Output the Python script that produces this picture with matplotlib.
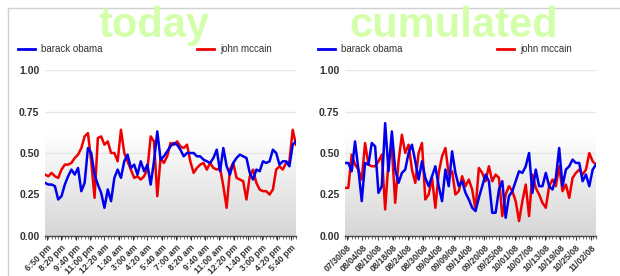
import numpy as np
import matplotlib
matplotlib.use('Agg')
import matplotlib.pyplot as plt
from matplotlib.lines import Line2D

plt.rcParams['font.family'] = ['Liberation Sans', 'DejaVu Sans']

# ---- data ----
today_labels = ['6:50 pm', '8:20 pm', '9:40 pm', '11:00 pm', '12:20 am', '1:40 am',
                '3:00 am', '4:20 am', '5:40 am', '7:00 am', '8:20 am', '9:40 am',
                '11:00 am', '12:20 pm', '1:40 pm', '3:00 pm', '4:20 pm', '5:40 pm']
today_obama = [0.32, 0.31, 0.31, 0.30, 0.22, 0.24, 0.31, 0.36, 0.40, 0.37, 0.41, 0.27, 0.32,
               0.53, 0.50, 0.37, 0.31, 0.26, 0.17, 0.28, 0.21, 0.35, 0.40, 0.35, 0.45, 0.49,
               0.41, 0.43, 0.37, 0.45, 0.39, 0.43, 0.31, 0.45, 0.63, 0.46, 0.48, 0.51, 0.54,
               0.56, 0.55, 0.52, 0.48, 0.50, 0.50, 0.50, 0.48, 0.48, 0.46, 0.45, 0.44, 0.47,
               0.52, 0.39, 0.53, 0.42, 0.37, 0.44, 0.47, 0.49, 0.48, 0.47, 0.38, 0.34, 0.40,
               0.39, 0.45, 0.44, 0.45, 0.52, 0.50, 0.43, 0.45, 0.45, 0.42, 0.55, 0.57]
today_mccain = [0.37, 0.36, 0.38, 0.36, 0.35, 0.40, 0.43, 0.43, 0.44, 0.47, 0.49, 0.53, 0.60,
                0.62, 0.45, 0.23, 0.59, 0.60, 0.55, 0.57, 0.50, 0.50, 0.45, 0.64, 0.50, 0.45,
                0.40, 0.35, 0.36, 0.34, 0.36, 0.40, 0.60, 0.57, 0.24, 0.47, 0.44, 0.48, 0.56,
                0.55, 0.57, 0.54, 0.53, 0.55, 0.45, 0.38, 0.41, 0.43, 0.44, 0.40, 0.44, 0.41,
                0.40, 0.41, 0.30, 0.17, 0.40, 0.44, 0.35, 0.34, 0.33, 0.22, 0.36, 0.40, 0.32,
                0.28, 0.27, 0.27, 0.25, 0.28, 0.40, 0.42, 0.40, 0.44, 0.45, 0.64, 0.55]

cum_labels = ['07/30/08', '08/04/08', '08/10/08', '08/18/08', '08/24/08', '08/30/08',
              '09/04/08', '09/09/08', '09/14/08', '09/20/08', '09/25/08', '10/01/08',
              '10/07/08', '10/13/08', '10/19/08', '10/25/08', '11/02/08']
cum_obama = [0.44, 0.44, 0.39, 0.57, 0.40, 0.21, 0.44, 0.43, 0.56, 0.54, 0.26, 0.30, 0.68,
             0.39, 0.63, 0.40, 0.32, 0.38, 0.40, 0.50, 0.55, 0.45, 0.34, 0.45, 0.35, 0.30,
             0.36, 0.42, 0.30, 0.21, 0.40, 0.30, 0.51, 0.38, 0.30, 0.33, 0.26, 0.22, 0.17,
             0.15, 0.23, 0.30, 0.37, 0.33, 0.14, 0.14, 0.28, 0.33, 0.11, 0.24, 0.27, 0.33,
             0.39, 0.38, 0.42, 0.50, 0.26, 0.40, 0.30, 0.30, 0.38, 0.30, 0.28, 0.35, 0.53,
             0.30, 0.40, 0.42, 0.46, 0.44, 0.44, 0.33, 0.37, 0.30, 0.40, 0.43]
cum_mccain = [0.29, 0.29, 0.49, 0.43, 0.40, 0.34, 0.56, 0.43, 0.42, 0.42, 0.45, 0.49, 0.16,
              0.45, 0.53, 0.20, 0.45, 0.61, 0.50, 0.55, 0.40, 0.32, 0.50, 0.56, 0.22, 0.25,
              0.35, 0.17, 0.38, 0.48, 0.53, 0.37, 0.39, 0.25, 0.27, 0.36, 0.30, 0.34, 0.28,
              0.16, 0.41, 0.38, 0.33, 0.42, 0.33, 0.37, 0.35, 0.12, 0.25, 0.30, 0.27, 0.21,
              0.09, 0.21, 0.31, 0.12, 0.37, 0.29, 0.25, 0.20, 0.17, 0.30, 0.34, 0.30, 0.42,
              0.27, 0.31, 0.23, 0.35, 0.38, 0.40, 0.37, 0.40, 0.50, 0.45, 0.43]

BLUE = '#0000ee'
RED = '#ee0000'
TITLE_GREEN = '#d4ffaa'

fig = plt.figure(figsize=(6.2, 2.76), dpi=100)

# frame lines (top and left)
fig.add_artist(Line2D([8 / 620, 1], [1 - 8 / 276] * 2, color='#d0d0d0', lw=1))
fig.add_artist(Line2D([8 / 620] * 2, [0, 1 - 8 / 276], color='#d0d0d0', lw=1))

# background: white in the upper part, fading to light grey at the bottom
g = np.linspace(0, 1, 256)
shade = np.clip((0.62 - g) / 0.62, 0, 1)
grad_rgb = np.ones((256, 1, 3)) - shade[:, None, None] * 0.16


def draw_panel(left_px, title, obama, mccain, labels):
    ax = fig.add_axes([left_px / 620, 40 / 276, 251 / 620, 166 / 276])
    n = len(obama)
    x = np.arange(n)
    ax.imshow(grad_rgb, extent=[0, 1, 0, 1], transform=ax.transAxes,
              aspect='auto', origin='lower', zorder=0)
    for yv in [0.25, 0.5, 0.75, 1.0]:
        ax.axhline(yv, color='#e6e6e6', lw=1, zorder=1)
    ax.plot(x, mccain, color=RED, lw=1.8, zorder=3)
    ax.plot(x, obama, color=BLUE, lw=1.8, zorder=4)
    ax.set_xlim(0, n - 1)
    ax.set_ylim(0, 1.0)
    ax.set_yticks([0, 0.25, 0.5, 0.75, 1.0])
    ax.set_yticklabels(['0.00', '0.25', '0.50', '0.75', '1.00'],
                       fontsize=7.5, fontweight='bold', color='#333333')
    ax.tick_params(axis='y', length=0, pad=4)
    pos = np.linspace(0.6, n - 2.5, len(labels))
    ax.set_xticks(pos)
    ax.set_xticklabels(labels, rotation=45, ha='right', rotation_mode='anchor',
                       fontsize=6.3, fontweight='bold', color='#333333')
    ax.set_xticks(x, minor=True)
    ax.tick_params(axis='x', which='major', length=3, width=0.8, color='#333333', pad=2)
    ax.tick_params(axis='x', which='minor', length=2, width=0.6, color='#555555')
    for side in ['top', 'right', 'left']:
        ax.spines[side].set_visible(False)
    ax.spines['bottom'].set_color('#444444')
    ax.spines['bottom'].set_linewidth(1)

    # legend
    lx = left_px - 27
    fig.add_artist(Line2D([lx / 620, (lx + 17) / 620], [1 - 49 / 276] * 2, color=BLUE, lw=2))
    fig.text((lx + 23) / 620, 1 - 49 / 276, 'barack obama', fontsize=7,
             color='#333333', va='center', ha='left')
    rx = lx + 179
    fig.add_artist(Line2D([rx / 620, (rx + 17) / 620], [1 - 49 / 276] * 2, color=RED, lw=2))
    fig.text((rx + 23) / 620, 1 - 49 / 276, 'john mccain', fontsize=7,
             color='#333333', va='center', ha='left')

    # big title
    fig.text((left_px + 109) / 620, 1 - 37 / 276, title, fontsize=30,
             fontweight='bold', color=TITLE_GREEN, ha='center', va='baseline')


draw_panel(45, 'today', today_obama, today_mccain, today_labels)
draw_panel(345, 'cumulated', cum_obama, cum_mccain, cum_labels)

fig.savefig('out.png', dpi=100)
